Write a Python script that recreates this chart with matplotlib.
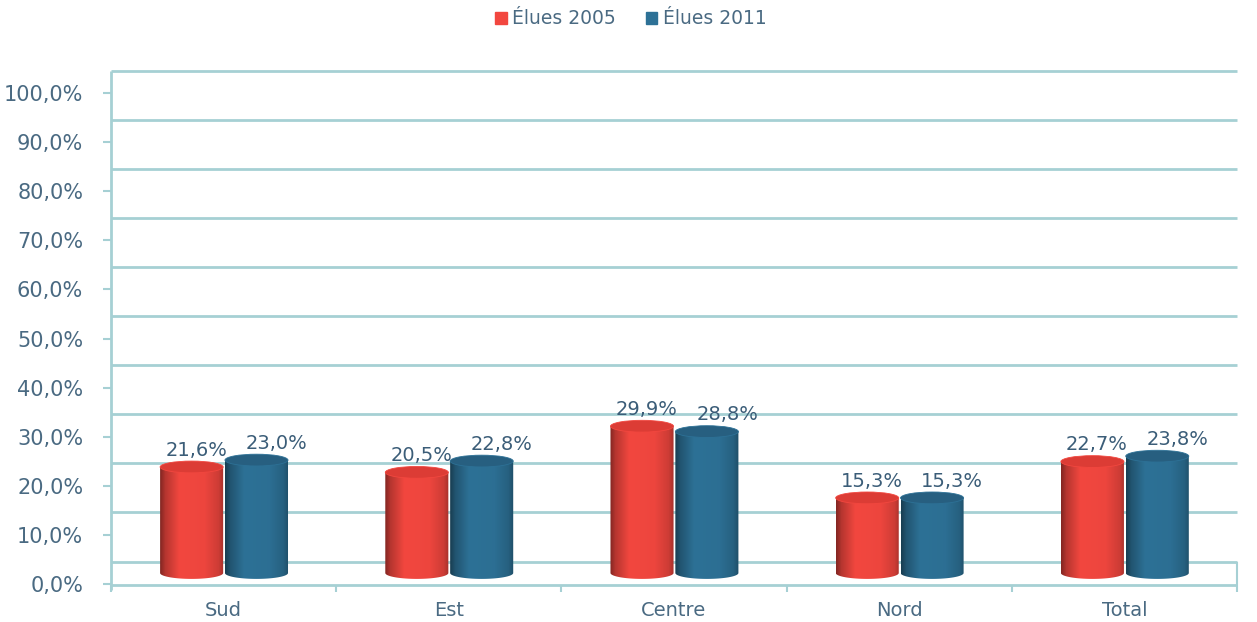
import numpy as np
import matplotlib
matplotlib.use("Agg")
import matplotlib.pyplot as plt
from matplotlib.patches import Ellipse, PathPatch, Patch
from matplotlib.path import Path
from matplotlib.colors import to_rgb

categories = ["Sud", "Est", "Centre", "Nord", "Total"]
elues_2005 = [21.6, 20.5, 29.9, 15.3, 22.7]
elues_2011 = [23.0, 22.8, 28.8, 15.3, 23.8]
series_names = ["Élues 2005", "Élues 2011"]
yticks = list(range(0, 101, 10))

grid_col = "#a6d0d4"
tick_col = "#4a6a82"
label_col = "#3b5d78"
body_cols = ["#f2473f", "#2d7196"]
cap_cols = ["#dc3c35", "#275f80"]

plt.rcParams["font.family"] = ["DejaVu Sans"]

fig = plt.figure(figsize=(12.57, 6.22), dpi=100)
ax = fig.add_axes([111 / 1257, 1 - 590 / 622, 1126 / 1257, 519 / 622])

depth = 4.58      # back wall shift (in % units)
base = 2.24       # bars stand mid-depth
bar_w = 0.28
cap_h = 2.4
offsets = [-0.142, 0.146]


def shade(color, n=64):
    t = np.linspace(0, 1, n)
    f = np.interp(t, [0, 0.08, 0.3, 0.7, 0.92, 1], [0.55, 0.75, 1.0, 0.98, 0.85, 0.7])
    c = np.array(to_rgb(color))
    return np.clip(c[None, :] * f[:, None], 0, 1)[None, :, :]


# back wall grid
for v in yticks:
    ax.hlines(v + depth, -0.5, 4.5, color=grid_col, lw=2.0, zorder=1, clip_on=False)
ax.vlines(-0.5, -1.2, 100 + depth, color=grid_col, lw=2.0, zorder=1, clip_on=False)
ax.vlines(4.5, -0.2, depth, color=grid_col, lw=1.5, zorder=1, clip_on=False)
ax.hlines(-0.2, -0.5, 4.5, color=grid_col, lw=2.0, zorder=1, clip_on=False)
for s in np.arange(-0.5, 5, 1.0):
    ax.vlines(s, -1.6, -0.2, color=grid_col, lw=1.5, zorder=1, clip_on=False)

# cylinders
for i, vals in enumerate([elues_2005, elues_2011]):
    img = shade(body_cols[i])
    for j, v in enumerate(vals):
        cx = j + offsets[i]
        x0, x1 = cx - bar_w / 2, cx + bar_w / 2
        top = base + v
        th = np.linspace(np.pi, 2 * np.pi, 40)
        ex = cx + bar_w / 2 * np.cos(th)
        ey = base + cap_h / 2 * np.sin(th)
        verts = [(x0, top)] + list(zip(ex, ey)) + [(x1, top), (x0, top)]
        codes = [Path.MOVETO] + [Path.LINETO] * (len(verts) - 2) + [Path.CLOSEPOLY]
        clip = PathPatch(Path(verts, codes), facecolor="none", edgecolor="none")
        ax.add_patch(clip)
        im = ax.imshow(img, extent=[x0, x1, base - cap_h, top], aspect="auto", zorder=3 + i)
        im.set_clip_path(clip)
        ax.add_patch(Ellipse((cx, top), bar_w, cap_h, facecolor=cap_cols[i],
                             edgecolor=body_cols[i], lw=0.6, zorder=3 + i))
        lx = cx + (0.02 if i == 0 else 0.09)
        ax.text(lx, top + 3.4, f"{v:.1f}%".replace(".", ","), ha="center", va="center",
                fontsize=14, color=label_col, zorder=6)

ax.set_xlim(-0.5, 4.5)
ax.set_ylim(-1.22, 104.48)
for sp in ax.spines.values():
    sp.set_visible(False)
ax.set_yticks(yticks)
ax.set_yticklabels([f"{v},0%" for v in yticks])
ax.tick_params(axis="y", length=6, width=1.5, color=grid_col, pad=14,
               labelsize=15, labelcolor=tick_col)
ax.set_xticks(range(len(categories)))
ax.set_xticklabels(categories)
ax.tick_params(axis="x", length=0, pad=8, labelsize=14, labelcolor=tick_col)

handles = [Patch(color=body_cols[0]), Patch(color=body_cols[1])]
fig.legend(handles, series_names, loc="upper center", bbox_to_anchor=(0.502, 1.012),
           ncol=2, frameon=False, handlelength=0.6, handleheight=0.6,
           handletextpad=0.3, columnspacing=1.6, fontsize=13.5,
           labelcolor=tick_col)

fig.savefig("out.png", dpi=100)
